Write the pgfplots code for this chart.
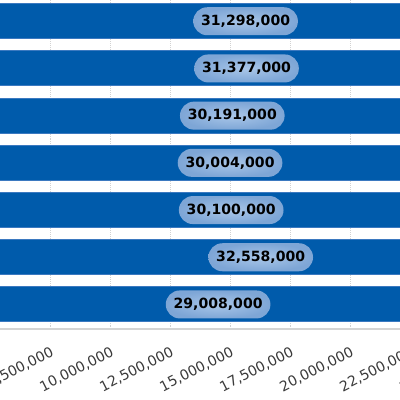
\documentclass[border=0pt]{standalone}
\usepackage{pgfplots}
\pgfplotsset{compat=1.18}
\usepackage{pgfplotstable}
\usepackage{fontspec}
\setmainfont{DejaVu Sans}
\usetikzlibrary{shapes.misc}

\definecolor{barblue}{HTML}{005BAB}
\definecolor{baredge}{HTML}{3B79C0}
\definecolor{pillin}{HTML}{A9C6E8}
\definecolor{pillout}{HTML}{7EA6D6}
\definecolor{axisgray}{HTML}{D4D4D4}
\definecolor{ticktext}{HTML}{3A3A3A}

% one row per bar, bottom bar first
\pgfplotstableread{
y v
0 29008000
1 32558000
2 30100000
3 30004000
4 30191000
5 31377000
6 31298000
}\bars

\begin{document}
\begin{tikzpicture}
\path[use as bounding box] (0,0) rectangle (100mm,100mm);
\clip (0,0) rectangle (100mm,100mm);
\begin{axis}[
  at={(-32.5mm,17.75mm)}, anchor=south west,
  scale only axis,
  width=180mm, height=88.74mm,
  xmin=0, xmax=30000000,
  ymin=-0.52, ymax=7,
  xtick={0,2500000,5000000,7500000,10000000,12500000,15000000,17500000,20000000,22500000,25000000,27500000,30000000},
  ytick=\empty,
  scaled x ticks=false,
  /pgf/number format/assume math mode=true,
  xticklabel style={
    /pgf/number format/.cd, fixed, precision=0, 1000 sep={,},
    /tikz/.cd, font=\fontsize{10}{12}\selectfont, text=ticktext,
    rotate=27, anchor=north east, inner sep=0pt},
  xticklabel shift=4.2mm,
  major tick length=0pt,
  axis x line*=bottom,
  axis y line=none,
  x axis line style={axisgray, line width=0.5mm},
  xmajorgrids,
  grid style={densely dotted, gray!35, line width=0.25mm},
  clip=true,
]
\addplot[xbar, bar width=8.75mm, fill=barblue, draw=baredge, line width=0.25mm]
  table[x=v, y=y] {\bars};
\addplot[draw=none, mark=none,
  point meta=explicit,
  nodes near coords={\pgfmathprintnumber[fixed, precision=0, 1000 sep={,}]{\pgfplotspointmeta}},
  nodes near coords style={anchor=center, rounded rectangle, shade,
    inner color=pillin, outer color=pillout,
    minimum height=7mm, inner xsep=1.6mm, text=black,
    font=\bfseries\fontsize{10}{12}\selectfont}]
  table[x expr=\thisrow{v}/2, y=y, meta=v] {\bars};
\end{axis}
\end{tikzpicture}
\end{document}
